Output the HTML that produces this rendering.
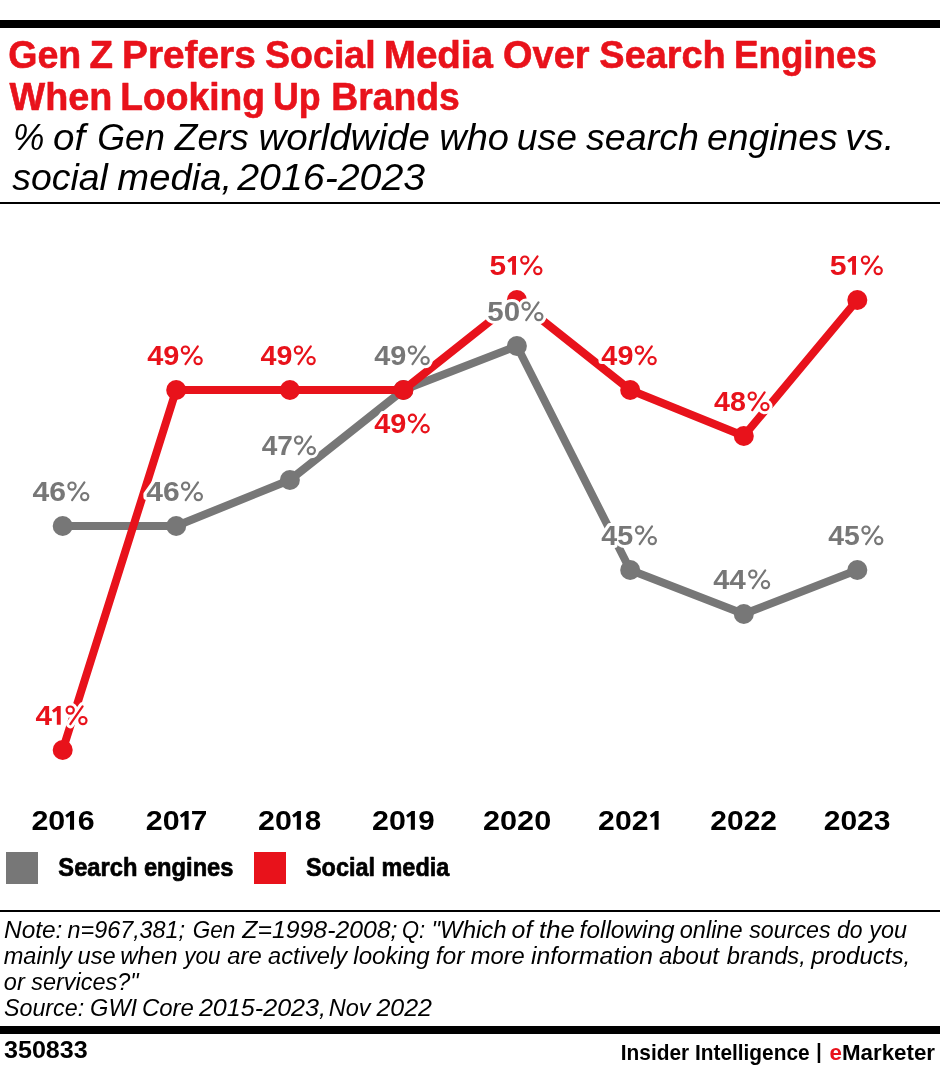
<!DOCTYPE html>
<html><head><meta charset="utf-8"><title>Gen Z Prefers Social Media Over Search Engines</title>
<style>html,body{margin:0;padding:0;background:#fff;}body{width:940px;height:1068px;overflow:hidden;font-family:"Liberation Sans",sans-serif;}svg{display:block;will-change:transform}</style>
</head><body>
<svg width="940" height="1068" viewBox="0 0 940 1068">
<rect x="0" y="20" width="940" height="8" fill="#000"/>
<text x="8.23" y="68.00" font-family="Liberation Sans" font-size="38.3" font-weight="bold" font-style="normal" fill="#e8121b" textLength="73.01" lengthAdjust="spacingAndGlyphs" stroke="#e8121b" stroke-width="0.6" stroke-linejoin="round">Gen</text>
<text x="89.64" y="68.00" font-family="Liberation Sans" font-size="38.3" font-weight="bold" font-style="normal" fill="#e8121b" textLength="23.52" lengthAdjust="spacingAndGlyphs" stroke="#e8121b" stroke-width="0.6" stroke-linejoin="round">Z</text>
<text x="122.07" y="68.00" font-family="Liberation Sans" font-size="38.3" font-weight="bold" font-style="normal" fill="#e8121b" textLength="133.67" lengthAdjust="spacingAndGlyphs" stroke="#e8121b" stroke-width="0.6" stroke-linejoin="round">Prefers</text>
<text x="265.07" y="68.00" font-family="Liberation Sans" font-size="38.3" font-weight="bold" font-style="normal" fill="#e8121b" textLength="110.60" lengthAdjust="spacingAndGlyphs" stroke="#e8121b" stroke-width="0.6" stroke-linejoin="round">Social</text>
<text x="383.78" y="68.00" font-family="Liberation Sans" font-size="38.3" font-weight="bold" font-style="normal" fill="#e8121b" textLength="109.31" lengthAdjust="spacingAndGlyphs" stroke="#e8121b" stroke-width="0.6" stroke-linejoin="round">Media</text>
<text x="503.11" y="68.00" font-family="Liberation Sans" font-size="38.3" font-weight="bold" font-style="normal" fill="#e8121b" textLength="86.43" lengthAdjust="spacingAndGlyphs" stroke="#e8121b" stroke-width="0.6" stroke-linejoin="round">Over</text>
<text x="599.36" y="68.00" font-family="Liberation Sans" font-size="38.3" font-weight="bold" font-style="normal" fill="#e8121b" textLength="126.36" lengthAdjust="spacingAndGlyphs" stroke="#e8121b" stroke-width="0.6" stroke-linejoin="round">Search</text>
<text x="734.00" y="68.00" font-family="Liberation Sans" font-size="38.3" font-weight="bold" font-style="normal" fill="#e8121b" textLength="142.80" lengthAdjust="spacingAndGlyphs" stroke="#e8121b" stroke-width="0.6" stroke-linejoin="round">Engines</text>
<text x="9.50" y="109.70" font-family="Liberation Sans" font-size="38.3" font-weight="bold" font-style="normal" fill="#e8121b" textLength="102.85" lengthAdjust="spacingAndGlyphs" stroke="#e8121b" stroke-width="0.6" stroke-linejoin="round">When</text>
<text x="120.27" y="109.70" font-family="Liberation Sans" font-size="38.3" font-weight="bold" font-style="normal" fill="#e8121b" textLength="144.71" lengthAdjust="spacingAndGlyphs" stroke="#e8121b" stroke-width="0.6" stroke-linejoin="round">Looking</text>
<text x="272.90" y="109.70" font-family="Liberation Sans" font-size="38.3" font-weight="bold" font-style="normal" fill="#e8121b" textLength="47.66" lengthAdjust="spacingAndGlyphs" stroke="#e8121b" stroke-width="0.6" stroke-linejoin="round">Up</text>
<text x="331.27" y="109.70" font-family="Liberation Sans" font-size="38.3" font-weight="bold" font-style="normal" fill="#e8121b" textLength="128.49" lengthAdjust="spacingAndGlyphs" stroke="#e8121b" stroke-width="0.6" stroke-linejoin="round">Brands</text>
<text x="12.92" y="150.00" font-family="Liberation Sans" font-size="37.7" font-weight="normal" font-style="italic" fill="#000" textLength="31.40" lengthAdjust="spacingAndGlyphs" >%</text>
<text x="53.12" y="150.00" font-family="Liberation Sans" font-size="37.7" font-weight="normal" font-style="italic" fill="#000" textLength="32.15" lengthAdjust="spacingAndGlyphs" >of</text>
<text x="97.24" y="150.00" font-family="Liberation Sans" font-size="37.7" font-weight="normal" font-style="italic" fill="#000" textLength="67.73" lengthAdjust="spacingAndGlyphs" >Gen</text>
<text x="174.84" y="150.00" font-family="Liberation Sans" font-size="37.7" font-weight="normal" font-style="italic" fill="#000" textLength="74.02" lengthAdjust="spacingAndGlyphs" >Zers</text>
<text x="258.45" y="150.00" font-family="Liberation Sans" font-size="37.7" font-weight="normal" font-style="italic" fill="#000" textLength="171.51" lengthAdjust="spacingAndGlyphs" >worldwide</text>
<text x="439.18" y="150.00" font-family="Liberation Sans" font-size="37.7" font-weight="normal" font-style="italic" fill="#000" textLength="69.77" lengthAdjust="spacingAndGlyphs" >who</text>
<text x="516.82" y="150.00" font-family="Liberation Sans" font-size="37.7" font-weight="normal" font-style="italic" fill="#000" textLength="60.08" lengthAdjust="spacingAndGlyphs" >use</text>
<text x="586.05" y="150.00" font-family="Liberation Sans" font-size="37.7" font-weight="normal" font-style="italic" fill="#000" textLength="112.87" lengthAdjust="spacingAndGlyphs" >search</text>
<text x="706.96" y="150.00" font-family="Liberation Sans" font-size="37.7" font-weight="normal" font-style="italic" fill="#000" textLength="130.61" lengthAdjust="spacingAndGlyphs" >engines</text>
<text x="845.37" y="150.00" font-family="Liberation Sans" font-size="37.7" font-weight="normal" font-style="italic" fill="#000" textLength="48.98" lengthAdjust="spacingAndGlyphs" >vs.</text>
<text x="12.25" y="190.20" font-family="Liberation Sans" font-size="37.7" font-weight="normal" font-style="italic" fill="#000" textLength="95.66" lengthAdjust="spacingAndGlyphs" >social</text>
<text x="117.34" y="190.20" font-family="Liberation Sans" font-size="37.7" font-weight="normal" font-style="italic" fill="#000" textLength="114.70" lengthAdjust="spacingAndGlyphs" >media,</text>
<text x="237.26" y="190.20" font-family="Liberation Sans" font-size="37.7" font-weight="normal" font-style="italic" fill="#000" textLength="187.94" lengthAdjust="spacingAndGlyphs" >2016-2023</text>
<rect x="0" y="202" width="940" height="2" fill="#000"/>
<polyline points="62.70,526.00 176.20,526.00 289.90,480.00 403.40,390.00 516.90,346.00 630.20,570.00 743.80,614.00 857.30,570.00" fill="none" stroke="#777777" stroke-width="8" stroke-linejoin="round"/>
<circle cx="62.70" cy="526.00" r="10" fill="#777777"/>
<circle cx="176.20" cy="526.00" r="10" fill="#777777"/>
<circle cx="289.90" cy="480.00" r="10" fill="#777777"/>
<circle cx="403.40" cy="390.00" r="10" fill="#777777"/>
<circle cx="516.90" cy="346.00" r="10" fill="#777777"/>
<circle cx="630.20" cy="570.00" r="10" fill="#777777"/>
<circle cx="743.80" cy="614.00" r="10" fill="#777777"/>
<circle cx="857.30" cy="570.00" r="10" fill="#777777"/>
<polyline points="62.70,750.00 176.20,390.00 289.90,390.00 403.40,390.00 516.90,300.00 630.20,390.00 743.80,436.00 857.30,300.00" fill="none" stroke="#e8121b" stroke-width="8" stroke-linejoin="round"/>
<circle cx="62.70" cy="750.00" r="10" fill="#e8121b"/>
<circle cx="176.20" cy="390.00" r="10" fill="#e8121b"/>
<circle cx="289.90" cy="390.00" r="10" fill="#e8121b"/>
<circle cx="403.40" cy="390.00" r="10" fill="#e8121b"/>
<circle cx="516.90" cy="300.00" r="10" fill="#e8121b"/>
<circle cx="630.20" cy="390.00" r="10" fill="#e8121b"/>
<circle cx="743.80" cy="436.00" r="10" fill="#e8121b"/>
<circle cx="857.30" cy="300.00" r="10" fill="#e8121b"/>
<circle cx="72.00" cy="486.10" r="3.6" fill="#fff" stroke="#fff" stroke-width="8.2"/><circle cx="84.70" cy="496.60" r="3.6" fill="#fff" stroke="#fff" stroke-width="8.2"/><line x1="84.40" y1="482.35" x2="72.10" y2="500.20" stroke="#fff" stroke-width="8.2" stroke-linecap="round"/>
<text x="32.56" y="500.85" font-family="Liberation Sans" font-size="27.7" font-weight="bold" font-style="normal" fill="#777777" textLength="33.50" lengthAdjust="spacingAndGlyphs" stroke="#fff" stroke-width="6" paint-order="stroke" stroke-linejoin="round">46</text>
<circle cx="72.00" cy="486.10" r="3.6" fill="none" stroke="#777777" stroke-width="2.2"/><circle cx="84.70" cy="496.60" r="3.6" fill="none" stroke="#777777" stroke-width="2.2"/><line x1="84.40" y1="482.35" x2="72.10" y2="500.20" stroke="#777777" stroke-width="2.2" stroke-linecap="round"/>
<circle cx="185.60" cy="486.10" r="3.6" fill="#fff" stroke="#fff" stroke-width="8.2"/><circle cx="198.30" cy="496.60" r="3.6" fill="#fff" stroke="#fff" stroke-width="8.2"/><line x1="198.00" y1="482.35" x2="185.70" y2="500.20" stroke="#fff" stroke-width="8.2" stroke-linecap="round"/>
<text x="146.26" y="500.85" font-family="Liberation Sans" font-size="27.7" font-weight="bold" font-style="normal" fill="#777777" textLength="33.39" lengthAdjust="spacingAndGlyphs" stroke="#fff" stroke-width="6" paint-order="stroke" stroke-linejoin="round">46</text>
<circle cx="185.60" cy="486.10" r="3.6" fill="none" stroke="#777777" stroke-width="2.2"/><circle cx="198.30" cy="496.60" r="3.6" fill="none" stroke="#777777" stroke-width="2.2"/><line x1="198.00" y1="482.35" x2="185.70" y2="500.20" stroke="#777777" stroke-width="2.2" stroke-linecap="round"/>
<circle cx="298.60" cy="440.10" r="3.6" fill="#fff" stroke="#fff" stroke-width="8.2"/><circle cx="311.30" cy="450.60" r="3.6" fill="#fff" stroke="#fff" stroke-width="8.2"/><line x1="311.00" y1="436.35" x2="298.70" y2="454.20" stroke="#fff" stroke-width="8.2" stroke-linecap="round"/>
<text x="261.69" y="454.85" font-family="Liberation Sans" font-size="27.7" font-weight="bold" font-style="normal" fill="#777777" textLength="31.13" lengthAdjust="spacingAndGlyphs" stroke="#fff" stroke-width="6" paint-order="stroke" stroke-linejoin="round">47</text>
<circle cx="298.60" cy="440.10" r="3.6" fill="none" stroke="#777777" stroke-width="2.2"/><circle cx="311.30" cy="450.60" r="3.6" fill="none" stroke="#777777" stroke-width="2.2"/><line x1="311.00" y1="436.35" x2="298.70" y2="454.20" stroke="#777777" stroke-width="2.2" stroke-linecap="round"/>
<circle cx="412.40" cy="350.10" r="3.6" fill="#fff" stroke="#fff" stroke-width="8.2"/><circle cx="425.10" cy="360.60" r="3.6" fill="#fff" stroke="#fff" stroke-width="8.2"/><line x1="424.80" y1="346.35" x2="412.50" y2="364.20" stroke="#fff" stroke-width="8.2" stroke-linecap="round"/>
<text x="374.28" y="364.85" font-family="Liberation Sans" font-size="27.7" font-weight="bold" font-style="normal" fill="#777777" textLength="32.13" lengthAdjust="spacingAndGlyphs" stroke="#fff" stroke-width="6" paint-order="stroke" stroke-linejoin="round">49</text>
<circle cx="412.40" cy="350.10" r="3.6" fill="none" stroke="#777777" stroke-width="2.2"/><circle cx="425.10" cy="360.60" r="3.6" fill="none" stroke="#777777" stroke-width="2.2"/><line x1="424.80" y1="346.35" x2="412.50" y2="364.20" stroke="#777777" stroke-width="2.2" stroke-linecap="round"/>
<circle cx="526.10" cy="306.10" r="3.6" fill="#fff" stroke="#fff" stroke-width="8.2"/><circle cx="538.80" cy="316.60" r="3.6" fill="#fff" stroke="#fff" stroke-width="8.2"/><line x1="538.50" y1="302.35" x2="526.20" y2="320.20" stroke="#fff" stroke-width="8.2" stroke-linecap="round"/>
<text x="487.34" y="320.85" font-family="Liberation Sans" font-size="27.7" font-weight="bold" font-style="normal" fill="#777777" textLength="32.80" lengthAdjust="spacingAndGlyphs" stroke="#fff" stroke-width="6" paint-order="stroke" stroke-linejoin="round">50</text>
<circle cx="526.10" cy="306.10" r="3.6" fill="none" stroke="#777777" stroke-width="2.2"/><circle cx="538.80" cy="316.60" r="3.6" fill="none" stroke="#777777" stroke-width="2.2"/><line x1="538.50" y1="302.35" x2="526.20" y2="320.20" stroke="#777777" stroke-width="2.2" stroke-linecap="round"/>
<circle cx="639.60" cy="530.10" r="3.6" fill="#fff" stroke="#fff" stroke-width="8.2"/><circle cx="652.30" cy="540.60" r="3.6" fill="#fff" stroke="#fff" stroke-width="8.2"/><line x1="652.00" y1="526.35" x2="639.70" y2="544.20" stroke="#fff" stroke-width="8.2" stroke-linecap="round"/>
<text x="601.38" y="544.85" font-family="Liberation Sans" font-size="27.7" font-weight="bold" font-style="normal" fill="#777777" textLength="31.96" lengthAdjust="spacingAndGlyphs" stroke="#fff" stroke-width="6" paint-order="stroke" stroke-linejoin="round">45</text>
<circle cx="639.60" cy="530.10" r="3.6" fill="none" stroke="#777777" stroke-width="2.2"/><circle cx="652.30" cy="540.60" r="3.6" fill="none" stroke="#777777" stroke-width="2.2"/><line x1="652.00" y1="526.35" x2="639.70" y2="544.20" stroke="#777777" stroke-width="2.2" stroke-linecap="round"/>
<circle cx="752.80" cy="574.10" r="3.6" fill="#fff" stroke="#fff" stroke-width="8.2"/><circle cx="765.50" cy="584.60" r="3.6" fill="#fff" stroke="#fff" stroke-width="8.2"/><line x1="765.20" y1="570.35" x2="752.90" y2="588.20" stroke="#fff" stroke-width="8.2" stroke-linecap="round"/>
<text x="713.27" y="588.85" font-family="Liberation Sans" font-size="27.7" font-weight="bold" font-style="normal" fill="#777777" textLength="32.49" lengthAdjust="spacingAndGlyphs" stroke="#fff" stroke-width="6" paint-order="stroke" stroke-linejoin="round">44</text>
<circle cx="752.80" cy="574.10" r="3.6" fill="none" stroke="#777777" stroke-width="2.2"/><circle cx="765.50" cy="584.60" r="3.6" fill="none" stroke="#777777" stroke-width="2.2"/><line x1="765.20" y1="570.35" x2="752.90" y2="588.20" stroke="#777777" stroke-width="2.2" stroke-linecap="round"/>
<circle cx="866.00" cy="530.10" r="3.6" fill="#fff" stroke="#fff" stroke-width="8.2"/><circle cx="878.70" cy="540.60" r="3.6" fill="#fff" stroke="#fff" stroke-width="8.2"/><line x1="878.40" y1="526.35" x2="866.10" y2="544.20" stroke="#fff" stroke-width="8.2" stroke-linecap="round"/>
<text x="828.19" y="544.85" font-family="Liberation Sans" font-size="27.7" font-weight="bold" font-style="normal" fill="#777777" textLength="31.54" lengthAdjust="spacingAndGlyphs" stroke="#fff" stroke-width="6" paint-order="stroke" stroke-linejoin="round">45</text>
<circle cx="866.00" cy="530.10" r="3.6" fill="none" stroke="#777777" stroke-width="2.2"/><circle cx="878.70" cy="540.60" r="3.6" fill="none" stroke="#777777" stroke-width="2.2"/><line x1="878.40" y1="526.35" x2="866.10" y2="544.20" stroke="#777777" stroke-width="2.2" stroke-linecap="round"/>
<circle cx="70.20" cy="710.10" r="3.6" fill="#fff" stroke="#fff" stroke-width="8.2"/><circle cx="82.90" cy="720.60" r="3.6" fill="#fff" stroke="#fff" stroke-width="8.2"/><line x1="82.60" y1="706.35" x2="70.30" y2="724.20" stroke="#fff" stroke-width="8.2" stroke-linecap="round"/>
<path d="M60.72,706.05L60.72,724.85L56.82,724.85L56.82,710.75L53.72,712.85L51.92,710.45L57.52,706.05Z" fill="#fff" stroke="#fff" stroke-width="6" stroke-linejoin="round"/>
<text x="35.46" y="724.85" font-family="Liberation Sans" font-size="27.7" font-weight="bold" font-style="normal" fill="#e8121b" textLength="16.50" lengthAdjust="spacingAndGlyphs" stroke="#fff" stroke-width="6" paint-order="stroke" stroke-linejoin="round">4</text>
<path d="M60.72,706.05L60.72,724.85L56.82,724.85L56.82,710.75L53.72,712.85L51.92,710.45L57.52,706.05Z" fill="#e8121b"/>
<circle cx="70.20" cy="710.10" r="3.6" fill="none" stroke="#e8121b" stroke-width="2.2"/><circle cx="82.90" cy="720.60" r="3.6" fill="none" stroke="#e8121b" stroke-width="2.2"/><line x1="82.60" y1="706.35" x2="70.30" y2="724.20" stroke="#e8121b" stroke-width="2.2" stroke-linecap="round"/>
<circle cx="185.40" cy="350.10" r="3.6" fill="#fff" stroke="#fff" stroke-width="8.2"/><circle cx="198.10" cy="360.60" r="3.6" fill="#fff" stroke="#fff" stroke-width="8.2"/><line x1="197.80" y1="346.35" x2="185.50" y2="364.20" stroke="#fff" stroke-width="8.2" stroke-linecap="round"/>
<text x="147.18" y="364.85" font-family="Liberation Sans" font-size="27.7" font-weight="bold" font-style="normal" fill="#e8121b" textLength="32.23" lengthAdjust="spacingAndGlyphs" stroke="#fff" stroke-width="6" paint-order="stroke" stroke-linejoin="round">49</text>
<circle cx="185.40" cy="350.10" r="3.6" fill="none" stroke="#e8121b" stroke-width="2.2"/><circle cx="198.10" cy="360.60" r="3.6" fill="none" stroke="#e8121b" stroke-width="2.2"/><line x1="197.80" y1="346.35" x2="185.50" y2="364.20" stroke="#e8121b" stroke-width="2.2" stroke-linecap="round"/>
<circle cx="298.40" cy="350.10" r="3.6" fill="#fff" stroke="#fff" stroke-width="8.2"/><circle cx="311.10" cy="360.60" r="3.6" fill="#fff" stroke="#fff" stroke-width="8.2"/><line x1="310.80" y1="346.35" x2="298.50" y2="364.20" stroke="#fff" stroke-width="8.2" stroke-linecap="round"/>
<text x="260.48" y="364.85" font-family="Liberation Sans" font-size="27.7" font-weight="bold" font-style="normal" fill="#e8121b" textLength="31.92" lengthAdjust="spacingAndGlyphs" stroke="#fff" stroke-width="6" paint-order="stroke" stroke-linejoin="round">49</text>
<circle cx="298.40" cy="350.10" r="3.6" fill="none" stroke="#e8121b" stroke-width="2.2"/><circle cx="311.10" cy="360.60" r="3.6" fill="none" stroke="#e8121b" stroke-width="2.2"/><line x1="310.80" y1="346.35" x2="298.50" y2="364.20" stroke="#e8121b" stroke-width="2.2" stroke-linecap="round"/>
<circle cx="412.40" cy="418.20" r="3.6" fill="#fff" stroke="#fff" stroke-width="8.2"/><circle cx="425.10" cy="428.70" r="3.6" fill="#fff" stroke="#fff" stroke-width="8.2"/><line x1="424.80" y1="414.45" x2="412.50" y2="432.30" stroke="#fff" stroke-width="8.2" stroke-linecap="round"/>
<text x="374.28" y="432.95" font-family="Liberation Sans" font-size="27.7" font-weight="bold" font-style="normal" fill="#e8121b" textLength="32.13" lengthAdjust="spacingAndGlyphs" stroke="#fff" stroke-width="6" paint-order="stroke" stroke-linejoin="round">49</text>
<circle cx="412.40" cy="418.20" r="3.6" fill="none" stroke="#e8121b" stroke-width="2.2"/><circle cx="425.10" cy="428.70" r="3.6" fill="none" stroke="#e8121b" stroke-width="2.2"/><line x1="424.80" y1="414.45" x2="412.50" y2="432.30" stroke="#e8121b" stroke-width="2.2" stroke-linecap="round"/>
<circle cx="524.80" cy="260.10" r="3.6" fill="#fff" stroke="#fff" stroke-width="8.2"/><circle cx="537.80" cy="270.60" r="3.6" fill="#fff" stroke="#fff" stroke-width="8.2"/><line x1="537.50" y1="256.35" x2="524.90" y2="274.20" stroke="#fff" stroke-width="8.2" stroke-linecap="round"/>
<path d="M516.00,256.05L516.00,274.85L512.10,274.85L512.10,260.75L509.00,262.85L507.20,260.45L512.80,256.05Z" fill="#fff" stroke="#fff" stroke-width="6" stroke-linejoin="round"/>
<text x="489.52" y="274.85" font-family="Liberation Sans" font-size="27.7" font-weight="bold" font-style="normal" fill="#e8121b" textLength="16.60" lengthAdjust="spacingAndGlyphs" stroke="#fff" stroke-width="6" paint-order="stroke" stroke-linejoin="round">5</text>
<path d="M516.00,256.05L516.00,274.85L512.10,274.85L512.10,260.75L509.00,262.85L507.20,260.45L512.80,256.05Z" fill="#e8121b"/>
<circle cx="524.80" cy="260.10" r="3.6" fill="none" stroke="#e8121b" stroke-width="2.2"/><circle cx="537.80" cy="270.60" r="3.6" fill="none" stroke="#e8121b" stroke-width="2.2"/><line x1="537.50" y1="256.35" x2="524.90" y2="274.20" stroke="#e8121b" stroke-width="2.2" stroke-linecap="round"/>
<circle cx="639.40" cy="350.10" r="3.6" fill="#fff" stroke="#fff" stroke-width="8.2"/><circle cx="652.10" cy="360.60" r="3.6" fill="#fff" stroke="#fff" stroke-width="8.2"/><line x1="651.80" y1="346.35" x2="639.50" y2="364.20" stroke="#fff" stroke-width="8.2" stroke-linecap="round"/>
<text x="601.38" y="364.85" font-family="Liberation Sans" font-size="27.7" font-weight="bold" font-style="normal" fill="#e8121b" textLength="32.02" lengthAdjust="spacingAndGlyphs" stroke="#fff" stroke-width="6" paint-order="stroke" stroke-linejoin="round">49</text>
<circle cx="639.40" cy="350.10" r="3.6" fill="none" stroke="#e8121b" stroke-width="2.2"/><circle cx="652.10" cy="360.60" r="3.6" fill="none" stroke="#e8121b" stroke-width="2.2"/><line x1="651.80" y1="346.35" x2="639.50" y2="364.20" stroke="#e8121b" stroke-width="2.2" stroke-linecap="round"/>
<circle cx="752.20" cy="396.10" r="3.6" fill="#fff" stroke="#fff" stroke-width="8.2"/><circle cx="764.90" cy="406.60" r="3.6" fill="#fff" stroke="#fff" stroke-width="8.2"/><line x1="764.60" y1="392.35" x2="752.30" y2="410.20" stroke="#fff" stroke-width="8.2" stroke-linecap="round"/>
<text x="714.08" y="410.85" font-family="Liberation Sans" font-size="27.7" font-weight="bold" font-style="normal" fill="#e8121b" textLength="31.86" lengthAdjust="spacingAndGlyphs" stroke="#fff" stroke-width="6" paint-order="stroke" stroke-linejoin="round">48</text>
<circle cx="752.20" cy="396.10" r="3.6" fill="none" stroke="#e8121b" stroke-width="2.2"/><circle cx="764.90" cy="406.60" r="3.6" fill="none" stroke="#e8121b" stroke-width="2.2"/><line x1="764.60" y1="392.35" x2="752.30" y2="410.20" stroke="#e8121b" stroke-width="2.2" stroke-linecap="round"/>
<circle cx="865.50" cy="260.10" r="3.6" fill="#fff" stroke="#fff" stroke-width="8.2"/><circle cx="878.20" cy="270.60" r="3.6" fill="#fff" stroke="#fff" stroke-width="8.2"/><line x1="877.90" y1="256.35" x2="865.60" y2="274.20" stroke="#fff" stroke-width="8.2" stroke-linecap="round"/>
<path d="M856.00,256.05L856.00,274.85L852.10,274.85L852.10,260.75L849.00,262.85L847.20,260.45L852.80,256.05Z" fill="#fff" stroke="#fff" stroke-width="6" stroke-linejoin="round"/>
<text x="829.71" y="274.85" font-family="Liberation Sans" font-size="27.7" font-weight="bold" font-style="normal" fill="#e8121b" textLength="16.78" lengthAdjust="spacingAndGlyphs" stroke="#fff" stroke-width="6" paint-order="stroke" stroke-linejoin="round">5</text>
<path d="M856.00,256.05L856.00,274.85L852.10,274.85L852.10,260.75L849.00,262.85L847.20,260.45L852.80,256.05Z" fill="#e8121b"/>
<circle cx="865.50" cy="260.10" r="3.6" fill="none" stroke="#e8121b" stroke-width="2.2"/><circle cx="878.20" cy="270.60" r="3.6" fill="none" stroke="#e8121b" stroke-width="2.2"/><line x1="877.90" y1="256.35" x2="865.60" y2="274.20" stroke="#e8121b" stroke-width="2.2" stroke-linecap="round"/>
<text x="31.42" y="830.20" font-family="Liberation Sans" font-size="28.2" font-weight="bold" font-style="normal" fill="#000" textLength="33.88" lengthAdjust="spacingAndGlyphs" >20</text>
<text x="77.72" y="830.20" font-family="Liberation Sans" font-size="28.2" font-weight="bold" font-style="normal" fill="#000" textLength="16.89" lengthAdjust="spacingAndGlyphs" >6</text>
<text x="145.72" y="830.20" font-family="Liberation Sans" font-size="28.2" font-weight="bold" font-style="normal" fill="#000" textLength="33.88" lengthAdjust="spacingAndGlyphs" >20</text>
<text x="190.78" y="830.20" font-family="Liberation Sans" font-size="28.2" font-weight="bold" font-style="normal" fill="#000" textLength="16.58" lengthAdjust="spacingAndGlyphs" >7</text>
<text x="258.12" y="830.20" font-family="Liberation Sans" font-size="28.2" font-weight="bold" font-style="normal" fill="#000" textLength="33.88" lengthAdjust="spacingAndGlyphs" >20</text>
<text x="304.85" y="830.20" font-family="Liberation Sans" font-size="28.2" font-weight="bold" font-style="normal" fill="#000" textLength="16.43" lengthAdjust="spacingAndGlyphs" >8</text>
<text x="372.12" y="830.20" font-family="Liberation Sans" font-size="28.2" font-weight="bold" font-style="normal" fill="#000" textLength="33.88" lengthAdjust="spacingAndGlyphs" >20</text>
<text x="418.15" y="830.20" font-family="Liberation Sans" font-size="28.2" font-weight="bold" font-style="normal" fill="#000" textLength="16.43" lengthAdjust="spacingAndGlyphs" >9</text>
<text x="482.91" y="830.20" font-family="Liberation Sans" font-size="28.2" font-weight="bold" font-style="normal" fill="#000" textLength="68.32" lengthAdjust="spacingAndGlyphs" >2020</text>
<text x="598.13" y="830.20" font-family="Liberation Sans" font-size="28.2" font-weight="bold" font-style="normal" fill="#000" textLength="50.27" lengthAdjust="spacingAndGlyphs" >202</text>
<text x="710.34" y="830.20" font-family="Liberation Sans" font-size="28.2" font-weight="bold" font-style="normal" fill="#000" textLength="66.66" lengthAdjust="spacingAndGlyphs" >2022</text>
<text x="823.73" y="830.20" font-family="Liberation Sans" font-size="28.2" font-weight="bold" font-style="normal" fill="#000" textLength="66.80" lengthAdjust="spacingAndGlyphs" >2023</text>
<path d="M74.06,810.90L74.06,829.75L69.96,829.75L69.96,815.60L67.06,817.70L65.26,815.30L70.86,810.90Z" fill="#000"/>
<path d="M188.60,810.90L188.60,829.75L184.50,829.75L184.50,815.60L181.60,817.70L179.80,815.30L185.40,810.90Z" fill="#000"/>
<path d="M300.90,810.90L300.90,829.75L296.80,829.75L296.80,815.60L293.90,817.70L292.10,815.30L297.70,810.90Z" fill="#000"/>
<path d="M414.90,810.90L414.90,829.75L410.80,829.75L410.80,815.60L407.90,817.70L406.10,815.30L411.70,810.90Z" fill="#000"/>
<path d="M658.60,810.90L658.60,829.75L654.50,829.75L654.50,815.60L651.60,817.70L649.80,815.30L655.40,810.90Z" fill="#000"/>
<rect x="6" y="852" width="32" height="32" fill="#777777"/>
<rect x="254" y="852" width="32" height="32" fill="#e8121b"/>
<text x="58.37" y="875.65" font-family="Liberation Sans" font-size="26.3" font-weight="bold" font-style="normal" fill="#000" textLength="175.10" lengthAdjust="spacingAndGlyphs" stroke="#000" stroke-width="0.7" stroke-linejoin="round">Search engines</text>
<text x="305.98" y="875.65" font-family="Liberation Sans" font-size="26.3" font-weight="bold" font-style="normal" fill="#000" textLength="143.27" lengthAdjust="spacingAndGlyphs" stroke="#000" stroke-width="0.7" stroke-linejoin="round">Social media</text>
<rect x="0" y="910" width="940" height="2" fill="#000"/>
<text x="4.03" y="937.70" font-family="Liberation Sans" font-size="23.9" font-weight="normal" font-style="italic" fill="#000" textLength="58.40" lengthAdjust="spacingAndGlyphs" >Note:</text>
<text x="67.51" y="937.70" font-family="Liberation Sans" font-size="23.9" font-weight="normal" font-style="italic" fill="#000" textLength="117.62" lengthAdjust="spacingAndGlyphs" >n=967,381;</text>
<text x="192.72" y="937.70" font-family="Liberation Sans" font-size="23.9" font-weight="normal" font-style="italic" fill="#000" textLength="42.58" lengthAdjust="spacingAndGlyphs" >Gen</text>
<text x="242.32" y="937.70" font-family="Liberation Sans" font-size="23.9" font-weight="normal" font-style="italic" fill="#000" textLength="155.15" lengthAdjust="spacingAndGlyphs" >Z=1998-2008;</text>
<text x="402.05" y="937.70" font-family="Liberation Sans" font-size="23.9" font-weight="normal" font-style="italic" fill="#000" textLength="23.15" lengthAdjust="spacingAndGlyphs" >Q:</text>
<text x="431.54" y="937.70" font-family="Liberation Sans" font-size="23.9" font-weight="normal" font-style="italic" fill="#000" textLength="75.17" lengthAdjust="spacingAndGlyphs" >&quot;Which</text>
<text x="511.62" y="937.70" font-family="Liberation Sans" font-size="23.9" font-weight="normal" font-style="italic" fill="#000" textLength="20.74" lengthAdjust="spacingAndGlyphs" >of</text>
<text x="539.13" y="937.70" font-family="Liberation Sans" font-size="23.9" font-weight="normal" font-style="italic" fill="#000" textLength="35.61" lengthAdjust="spacingAndGlyphs" >the</text>
<text x="579.63" y="937.70" font-family="Liberation Sans" font-size="23.9" font-weight="normal" font-style="italic" fill="#000" textLength="94.89" lengthAdjust="spacingAndGlyphs" >following</text>
<text x="679.76" y="937.70" font-family="Liberation Sans" font-size="23.9" font-weight="normal" font-style="italic" fill="#000" textLength="62.79" lengthAdjust="spacingAndGlyphs" >online</text>
<text x="749.26" y="937.70" font-family="Liberation Sans" font-size="23.9" font-weight="normal" font-style="italic" fill="#000" textLength="81.28" lengthAdjust="spacingAndGlyphs" >sources</text>
<text x="836.88" y="937.70" font-family="Liberation Sans" font-size="23.9" font-weight="normal" font-style="italic" fill="#000" textLength="25.52" lengthAdjust="spacingAndGlyphs" >do</text>
<text x="869.22" y="937.70" font-family="Liberation Sans" font-size="23.9" font-weight="normal" font-style="italic" fill="#000" textLength="37.70" lengthAdjust="spacingAndGlyphs" >you</text>
<text x="3.71" y="963.80" font-family="Liberation Sans" font-size="23.9" font-weight="normal" font-style="italic" fill="#000" textLength="68.15" lengthAdjust="spacingAndGlyphs" >mainly</text>
<text x="77.51" y="963.80" font-family="Liberation Sans" font-size="23.9" font-weight="normal" font-style="italic" fill="#000" textLength="38.16" lengthAdjust="spacingAndGlyphs" >use</text>
<text x="120.35" y="963.80" font-family="Liberation Sans" font-size="23.9" font-weight="normal" font-style="italic" fill="#000" textLength="57.18" lengthAdjust="spacingAndGlyphs" >when</text>
<text x="184.18" y="963.80" font-family="Liberation Sans" font-size="23.9" font-weight="normal" font-style="italic" fill="#000" textLength="36.32" lengthAdjust="spacingAndGlyphs" >you</text>
<text x="227.20" y="963.80" font-family="Liberation Sans" font-size="23.9" font-weight="normal" font-style="italic" fill="#000" textLength="34.48" lengthAdjust="spacingAndGlyphs" >are</text>
<text x="268.10" y="963.80" font-family="Liberation Sans" font-size="23.9" font-weight="normal" font-style="italic" fill="#000" textLength="78.93" lengthAdjust="spacingAndGlyphs" >actively</text>
<text x="353.30" y="963.80" font-family="Liberation Sans" font-size="23.9" font-weight="normal" font-style="italic" fill="#000" textLength="76.43" lengthAdjust="spacingAndGlyphs" >looking</text>
<text x="435.73" y="963.80" font-family="Liberation Sans" font-size="23.9" font-weight="normal" font-style="italic" fill="#000" textLength="28.79" lengthAdjust="spacingAndGlyphs" >for</text>
<text x="470.70" y="963.80" font-family="Liberation Sans" font-size="23.9" font-weight="normal" font-style="italic" fill="#000" textLength="54.03" lengthAdjust="spacingAndGlyphs" >more</text>
<text x="530.98" y="963.80" font-family="Liberation Sans" font-size="23.9" font-weight="normal" font-style="italic" fill="#000" textLength="121.94" lengthAdjust="spacingAndGlyphs" >information</text>
<text x="658.90" y="963.80" font-family="Liberation Sans" font-size="23.9" font-weight="normal" font-style="italic" fill="#000" textLength="60.10" lengthAdjust="spacingAndGlyphs" >about</text>
<text x="726.80" y="963.80" font-family="Liberation Sans" font-size="23.9" font-weight="normal" font-style="italic" fill="#000" textLength="78.96" lengthAdjust="spacingAndGlyphs" >brands,</text>
<text x="811.20" y="963.80" font-family="Liberation Sans" font-size="23.9" font-weight="normal" font-style="italic" fill="#000" textLength="99.10" lengthAdjust="spacingAndGlyphs" >products,</text>
<text x="3.86" y="989.60" font-family="Liberation Sans" font-size="23.9" font-weight="normal" font-style="italic" fill="#000" textLength="134.73" lengthAdjust="spacingAndGlyphs" >or services?&quot;</text>
<text x="3.97" y="1015.60" font-family="Liberation Sans" font-size="23.9" font-weight="normal" font-style="italic" fill="#000" textLength="80.20" lengthAdjust="spacingAndGlyphs" >Source:</text>
<text x="90.07" y="1015.60" font-family="Liberation Sans" font-size="23.9" font-weight="normal" font-style="italic" fill="#000" textLength="47.11" lengthAdjust="spacingAndGlyphs" >GWI</text>
<text x="141.95" y="1015.60" font-family="Liberation Sans" font-size="23.9" font-weight="normal" font-style="italic" fill="#000" textLength="51.95" lengthAdjust="spacingAndGlyphs" >Core</text>
<text x="198.90" y="1015.60" font-family="Liberation Sans" font-size="23.9" font-weight="normal" font-style="italic" fill="#000" textLength="127.14" lengthAdjust="spacingAndGlyphs" >2015-2023,</text>
<text x="328.66" y="1015.60" font-family="Liberation Sans" font-size="23.9" font-weight="normal" font-style="italic" fill="#000" textLength="41.85" lengthAdjust="spacingAndGlyphs" >Nov</text>
<text x="376.40" y="1015.60" font-family="Liberation Sans" font-size="23.9" font-weight="normal" font-style="italic" fill="#000" textLength="55.63" lengthAdjust="spacingAndGlyphs" >2022</text>
<rect x="0" y="1026" width="940" height="8" fill="#000"/>
<text x="3.95" y="1058.00" font-family="Liberation Sans" font-size="23.0" font-weight="bold" font-style="normal" fill="#000" textLength="83.87" lengthAdjust="spacingAndGlyphs" >350833</text>
<text x="620.75" y="1060.20" font-family="Liberation Sans" font-size="21.6" font-weight="bold" font-style="normal" fill="#000" textLength="188.88" lengthAdjust="spacingAndGlyphs" >Insider Intelligence</text>
<rect x="817.7" y="1043" width="2.5" height="20" fill="#000"/>
<text x="829.54" y="1060.20" font-family="Liberation Sans" font-size="22.0" font-weight="bold" font-style="normal" fill="#000" textLength="105.52" lengthAdjust="spacingAndGlyphs" ><tspan fill="#e8121b">e</tspan>Marketer</text>
</svg>
</body></html>
